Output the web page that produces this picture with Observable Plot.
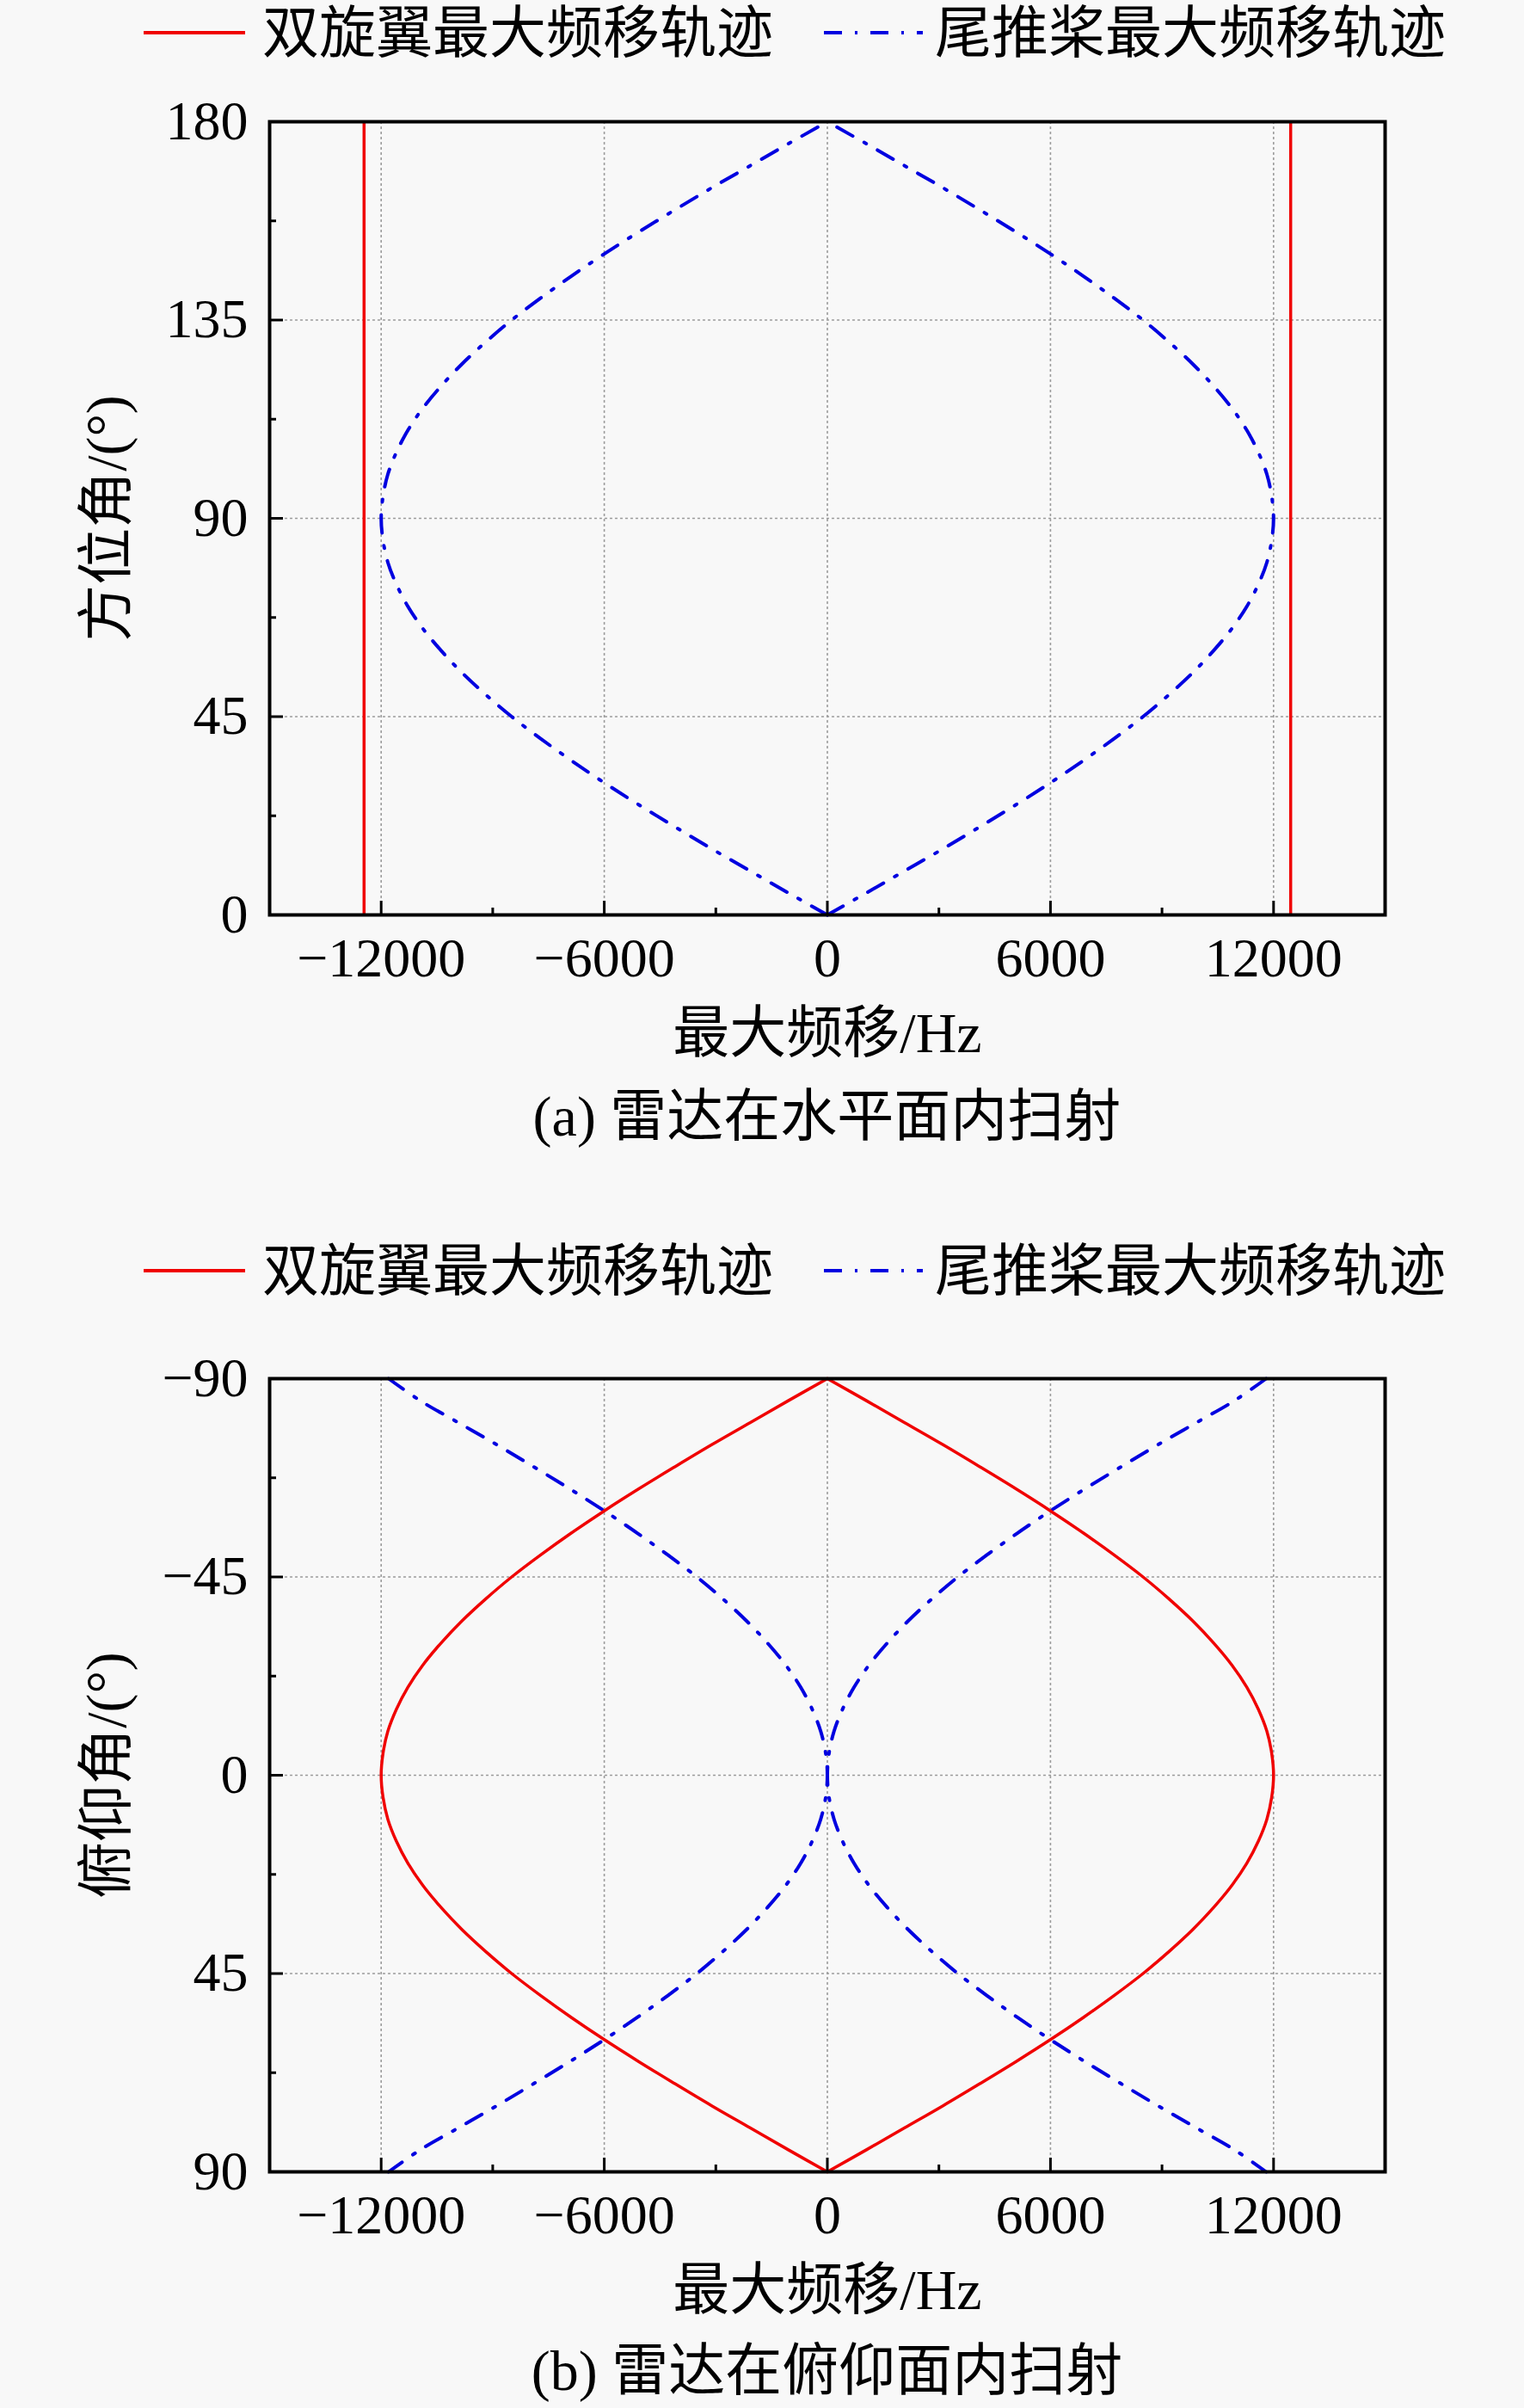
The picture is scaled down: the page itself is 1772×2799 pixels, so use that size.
<!DOCTYPE html>
<html>
<head>
<meta charset="utf-8">
<script src="https://cdn.jsdelivr.net/npm/d3@7"></script>
<script src="https://cdn.jsdelivr.net/npm/@observablehq/plot@0.6"></script>
<style>
html, body { margin: 0; padding: 0; background: #f8f8f8; }
#page { position: relative; width: 1772px; height: 2799px; overflow: hidden;
  font-family: "Liberation Serif", "Noto Sans CJK SC", serif; color: #000; }
.panel { position: absolute; left: 0; }
.legend { position: absolute; left: 0; }
.caption { position: absolute; left: 313px; width: 1297px; text-align: center;
  font-size: 66px; line-height: 80px; white-space: nowrap; }
</style>
</head>
<body>
<div id="page"></div>
<script>
// ---------- data ----------
const seriesNames = ["双旋翼最大频移轨迹", "尾推桨最大频移轨迹"];
const seriesColors = ["#f00000", "#0000e0"];
const xLabel = "最大频移/Hz";
const yLabelA = "方位角/(°)";
const yLabelB = "俯仰角/(°)";
const captionA = "(a) 雷达在水平面内扫射";
const captionB = "(b) 雷达在俯仰面内扫射";

const xTicks = [-12000, -6000, 0, 6000, 12000];
const xMinorTicks = [-9000, -3000, 3000, 9000];
const yTicksA = [0, 45, 90, 135, 180];
const yMinorTicksA = [22.5, 67.5, 112.5, 157.5];
const yGridA = [45, 90, 135];
const yTicksB = [-90, -45, 0, 45, 90];
const yMinorTicksB = [-67.5, -22.5, 22.5, 67.5];
const yGridB = [-45, 0, 45];

// (a) radar sweeping in horizontal plane: azimuth (deg)
const azimuth = [0,5,10,15,20,25,30,35,40,45,50,55,60,65,70,75,80,85,90,95,100,105,110,115,120,125,130,135,140,145,150,155,160,165,170,175,180];
const tailAzRight = [0,1050,2080,3110,4100,5070,6000,6880,7710,8490,9190,9830,10390,10880,11280,11590,11820,11950,12000,11950,11820,11590,11280,10880,10390,9830,9190,8490,7710,6880,6000,5070,4100,3110,2080,1050,0];
const tailAzLeft = [0,-1050,-2080,-3110,-4100,-5070,-6000,-6880,-7710,-8490,-9190,-9830,-10390,-10880,-11280,-11590,-11820,-11950,-12000,-11950,-11820,-11590,-11280,-10880,-10390,-9830,-9190,-8490,-7710,-6880,-6000,-5070,-4100,-3110,-2080,-1050,0];
const rotorAz = [-12460, 12460];

// (b) radar sweeping in pitch plane: elevation (deg)
const elevation = [-90,-85,-80,-75,-70,-65,-60,-55,-50,-45,-40,-35,-30,-25,-20,-15,-10,-5,0,5,10,15,20,25,30,35,40,45,50,55,60,65,70,75,80,85,90];
const rotorElRight = [0,1050,2080,3110,4100,5070,6000,6880,7710,8490,9190,9830,10390,10880,11280,11590,11820,11950,12000,11950,11820,11590,11280,10880,10390,9830,9190,8490,7710,6880,6000,5070,4100,3110,2080,1050,0];
const rotorElLeft = [0,-1050,-2080,-3110,-4100,-5070,-6000,-6880,-7710,-8490,-9190,-9830,-10390,-10880,-11280,-11590,-11820,-11950,-12000,-11950,-11820,-11590,-11280,-10880,-10390,-9830,-9190,-8490,-7710,-6880,-6000,-5070,-4100,-3110,-2080,-1050,0];
const tailElRight = [11800,10950,9920,8890,7900,6930,6000,5120,4290,3510,2810,2170,1610,1120,720,410,180,45,0,45,180,410,720,1120,1610,2170,2810,3510,4290,5120,6000,6930,7900,8890,9920,10950,11800];
const tailElLeft = [-11800,-10950,-9920,-8890,-7900,-6930,-6000,-5120,-4290,-3510,-2810,-2170,-1610,-1120,-720,-410,-180,-45,0,-45,-180,-410,-720,-1120,-1610,-2170,-2810,-3510,-4290,-5120,-6000,-6930,-7900,-8890,-9920,-10950,-11800];

// ---------- helpers ----------
const FONT = '"Liberation Serif", "Noto Sans CJK SC", serif';
const fmt = d3.format("d");
const BLUE_DASH = "21,15,3,15";

function table(angles, ...branches) {
  const rows = [];
  branches.forEach((vals, k) => vals.forEach((v, i) => rows.push({angle: angles[i], f: v, branch: k})));
  return rows;
}

function legend(top) {
  const ns = "http://www.w3.org/2000/svg";
  const svg = document.createElementNS(ns, "svg");
  svg.setAttribute("width", 1772); svg.setAttribute("height", 80);
  svg.setAttribute("class", "legend");
  svg.style.top = top + "px";
  const cy = 38;
  const items = [
    {x1: 167, x2: 285, tx: 305, color: seriesColors[0], dash: null, w: 4},
    {x1: 958, x2: 1073, tx: 1087, color: seriesColors[1], dash: BLUE_DASH, w: 4}
  ];
  items.forEach((it, i) => {
    const ln = document.createElementNS(ns, "line");
    ln.setAttribute("x1", it.x1); ln.setAttribute("x2", it.x2);
    ln.setAttribute("y1", cy); ln.setAttribute("y2", cy);
    ln.setAttribute("stroke", it.color); ln.setAttribute("stroke-width", it.w);
    if (it.dash) ln.setAttribute("stroke-dasharray", it.dash);
    svg.appendChild(ln);
    const t = document.createElementNS(ns, "text");
    t.setAttribute("x", it.tx); t.setAttribute("y", cy);
    t.setAttribute("dominant-baseline", "central");
    t.setAttribute("font-size", 66);
    t.setAttribute("font-family", FONT);
    t.textContent = seriesNames[i];
    svg.appendChild(t);
  });
  return svg;
}

function panel({yDomain, yReverse, yTicks, yMinor, yGrid, yLabel, lineMarks}) {
  return Plot.plot({
    width: 1772, height: 1170,
    marginLeft: 313, marginRight: 162, marginTop: 61, marginBottom: 187,
    x: {domain: [-15000, 15000]},
    y: {domain: yDomain, reverse: yReverse},
    style: {background: "transparent", fontFamily: FONT, color: "#000", overflow: "visible"},
    marks: [
      Plot.gridX(xTicks, {stroke: "#9c9c9c", strokeOpacity: 1, strokeWidth: 1.6, strokeDasharray: "3,3"}),
      Plot.gridY(yGrid, {stroke: "#9c9c9c", strokeOpacity: 1, strokeWidth: 1.6, strokeDasharray: "3,3"}),
      ...lineMarks,
      Plot.frame({stroke: "#000", strokeWidth: 4}),
      Plot.axisX(xTicks, {tickSize: -16, strokeWidth: 3, tickFormat: () => "", label: null}),
      Plot.axisX(xMinorTicks, {tickSize: -8, strokeWidth: 3, tickFormat: () => "", label: null}),
      Plot.axisX(xTicks, {tickSize: 0, tickPadding: 26, tickFormat: fmt, fontSize: 64, fontFamily: FONT, label: null}),
      Plot.axisY(yTicks, {tickSize: -16, strokeWidth: 3, tickFormat: () => "", label: null}),
      Plot.axisY(yMinor, {tickSize: -8, strokeWidth: 3, tickFormat: () => "", label: null}),
      Plot.axisY(yTicks, {tickSize: 0, tickPadding: 25, tickFormat: fmt, fontSize: 64, fontFamily: FONT, label: null}),
      Plot.text([xLabel], {text: d => d, frameAnchor: "bottom", dy: 138, textAnchor: "middle", lineAnchor: "middle", fontSize: 66, fontFamily: FONT}),
      Plot.text([yLabel], {text: d => d, frameAnchor: "left", dx: -189, rotate: -90, textAnchor: "middle", lineAnchor: "middle", fontSize: 66, fontFamily: FONT})
    ]
  });
}

// ---------- build ----------
const page = document.getElementById("page");

// Panel (a)
page.appendChild(legend(0));
const tailA = table(azimuth, tailAzLeft, tailAzRight);
const plotA = panel({
  yDomain: [0, 180], yReverse: false, yTicks: yTicksA, yMinor: yMinorTicksA, yGrid: yGridA, yLabel: yLabelA,
  lineMarks: [
    Plot.ruleX(rotorAz, {stroke: seriesColors[0], strokeWidth: 3.5}),
    Plot.line(tailA, {x: "f", y: "angle", z: "branch", stroke: seriesColors[1], strokeWidth: 4, strokeDasharray: BLUE_DASH, curve: "catmull-rom"})
  ]
});
plotA.classList.add("panel"); plotA.style.position = "absolute"; plotA.style.top = "80px";
page.appendChild(plotA);
const capA = document.createElement("div");
capA.className = "caption"; capA.style.top = "1258px"; capA.textContent = captionA;
page.appendChild(capA);

// Panel (b)
page.appendChild(legend(1439));
const rotorB = table(elevation, rotorElLeft, rotorElRight);
const tailB = table(elevation, tailElLeft, tailElRight);
const plotB = panel({
  yDomain: [-90, 90], yReverse: true, yTicks: yTicksB, yMinor: yMinorTicksB, yGrid: yGridB, yLabel: yLabelB,
  lineMarks: [
    Plot.line(tailB, {x: "f", y: "angle", z: "branch", stroke: seriesColors[1], strokeWidth: 4, strokeDasharray: BLUE_DASH, curve: "catmull-rom"}),
    Plot.line(rotorB, {x: "f", y: "angle", z: "branch", stroke: seriesColors[0], strokeWidth: 3.5, curve: "catmull-rom"})
  ]
});
plotB.classList.add("panel"); plotB.style.position = "absolute"; plotB.style.top = "1541px";
page.appendChild(plotB);
const capB = document.createElement("div");
capB.className = "caption"; capB.style.top = "2716px"; capB.textContent = captionB;
page.appendChild(capB);
</script>
</body>
</html>
